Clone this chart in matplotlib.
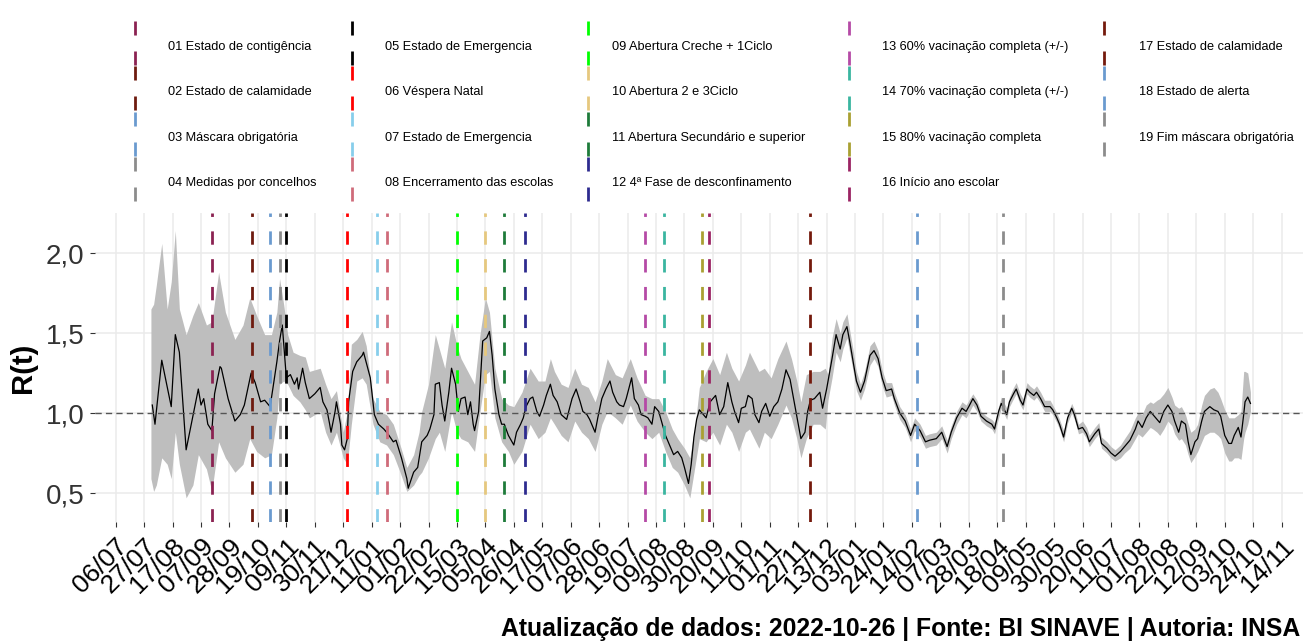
"""
R(t) ao longo do tempo, com as medidas/eventos marcados como linhas verticais.
"""

###
# IMPORTS
###
import numpy as np
import pandas as pd
import matplotlib
matplotlib.use("Agg")
import matplotlib.pyplot as plt
import matplotlib.dates as mdates

###
# GLOBALS
###
plt.rcParams['font.family'] = ['Liberation Sans', 'DejaVu Sans']
plt.rcParams['lines.scale_dashes'] = False

START = pd.Timestamp("2020-07-06")   # day 0 of the day counts below

# R(t) estimate (days since 06/07/2020, value)
rt_days = [27, 29, 34, 41, 44, 47, 52, 57, 61, 63, 65, 68, 71, 73, 77, 78, 83, 88, 92, 95,
           100, 103, 107, 110, 114, 116, 119, 121, 123, 124, 126, 129, 132, 134, 135, 138, 140,
           143, 147, 151, 153, 156, 158, 159, 162, 163, 166, 167, 169, 171, 172, 175, 178, 182,
           183, 188, 191, 194, 198, 201, 205, 207, 211, 215, 216, 220, 223,
           226, 230, 232, 235, 236, 239, 241, 243, 246, 248, 251, 253, 255, 258, 260, 262, 264,
           265, 268, 270, 271, 274, 276, 278, 280, 283, 285, 287, 290, 294, 296, 299, 301, 303,
           306, 308, 311, 313, 316, 318, 321, 323, 326, 329, 333, 337, 340, 343, 345, 348, 350,
           354, 356, 359, 362, 365, 367, 370, 372, 375, 377, 381, 383, 386, 388, 391, 393, 396,
           398, 401, 403, 406, 409, 412, 415, 418, 420, 423, 425, 427, 429,
           431, 434, 436, 439, 441, 443, 446, 449, 452, 455, 457, 460, 462, 465, 467, 470, 472,
           475, 477, 480, 483, 486, 489, 492, 495, 498, 501, 504, 506, 509, 511, 513, 516, 520,
           522, 525, 529, 532, 535, 537, 540, 542, 545, 547, 550, 553, 557, 560, 563, 566, 569,
           573, 575, 579, 583, 587, 590, 594, 598, 601, 606, 610, 614, 617, 621, 625, 628,
           630, 633, 636, 639, 643, 647, 649, 652, 654, 658, 660, 663, 665, 668, 670, 673, 675,
           678, 680, 683, 686, 690, 692, 695, 697, 700, 703, 706, 708, 711, 714, 717, 719, 723,
           726, 728, 732, 735, 738, 742, 745, 749, 753, 755, 758, 761, 764, 766, 769, 771, 774,
           777, 780, 782, 785, 787, 790, 792, 794, 797, 799, 802, 804, 808, 811, 814, 816, 819,
           822, 824, 826, 829, 831, 833, 834, 836, 838]
rt_vals = [1.05, 0.93, 1.33, 1.04, 1.49, 1.38, 0.77, 0.98, 1.15, 1.05, 1.09, 0.93, 0.89, 1.12,
           1.29, 1.28, 1.09, 0.95, 0.99, 1.05, 1.25, 1.19, 1.07, 1.08, 1.04, 1.15, 1.32, 1.45,
           1.55, 1.44, 1.22, 1.24, 1.18, 1.22, 1.15, 1.28, 1.19, 1.09, 1.12, 1.16, 1.07, 1.02,
           0.93, 0.88, 1.01, 1.07, 0.93, 0.80, 0.77, 0.84, 1.07, 1.26, 1.32, 1.36, 1.38, 1.22,
           0.99, 0.93, 0.90, 0.87, 0.82, 0.83, 0.72, 0.59, 0.53, 0.63, 0.66,
           0.82, 0.86, 0.90, 0.99, 1.18, 1.19, 1.05, 0.95, 1.13, 1.28, 1.18, 1.01, 1.09, 1.10,
           0.99, 1.07, 0.93, 0.89, 1.01, 1.30, 1.45, 1.47, 1.51, 1.36, 1.15, 0.99, 0.93, 0.93,
           0.86, 0.80, 0.88, 0.93, 0.97, 1.04, 1.09, 1.10, 1.01, 0.98, 1.05, 1.11, 1.18, 1.11,
           1.07, 0.99, 0.96, 1.09, 1.15, 1.07, 1.01, 0.99, 0.96, 0.88, 0.97, 1.09, 1.15, 1.20,
           1.13, 1.07, 1.05, 1.04, 1.09, 1.22, 1.09, 1.05, 0.99, 0.98, 0.97, 0.93, 1.04, 1.01,
           0.95, 0.86, 0.80, 0.74, 0.76, 0.72, 0.66, 0.56, 0.68, 0.85, 0.96,
           1.02, 0.99, 0.97, 1.07, 1.09, 1.11, 0.99, 1.04, 1.19, 1.07, 1.01, 0.94, 1.03, 1.04,
           1.11, 1.09, 0.99, 0.94, 1.01, 1.06, 0.98, 1.04, 1.07, 1.15, 1.27, 1.21, 1.07, 0.93,
           0.84, 0.88, 1.01, 1.08, 1.09, 1.13, 1.03, 1.15, 1.34, 1.49, 1.40, 1.49, 1.54, 1.45,
           1.30, 1.20, 1.13, 1.20, 1.36, 1.39, 1.34, 1.22, 1.14, 1.15, 1.09, 1.00, 0.95, 0.86,
           0.93, 0.89, 0.82, 0.83, 0.84, 0.88, 0.79, 0.88, 0.97, 1.03, 1.01,
           1.04, 1.09, 1.05, 0.98, 0.95, 0.93, 0.90, 1.01, 1.06, 0.99, 1.07, 1.12, 1.15, 1.08,
           1.05, 1.15, 1.13, 1.11, 1.13, 1.09, 1.04, 1.04, 1.02, 0.97, 0.93, 0.85, 0.97, 1.03,
           0.99, 0.90, 0.91, 0.87, 0.82, 0.87, 0.90, 0.81, 0.78, 0.75, 0.73, 0.76, 0.79, 0.83,
           0.90, 0.95, 0.91, 0.97, 1.01, 0.99, 0.96, 0.94, 1.01, 1.05, 1.01, 0.95, 0.88, 0.95,
           0.93, 0.82, 0.74, 0.82, 0.84, 0.95, 1.01, 1.04, 1.02, 1.01, 0.98, 0.86, 0.81, 0.81,
           0.86, 0.91, 0.85, 0.99, 1.07, 1.10, 1.06]

# confidence band (days since 06/07/2020, lower, upper)
band_days = [26, 28, 30, 34, 38, 41, 44, 47, 52, 57, 61, 67, 71, 76, 81, 88, 94, 99, 104, 110,
             115, 119, 121, 124, 127, 131, 136, 140, 143, 151, 155, 159, 163, 168, 171, 174,
             178, 182, 185, 190, 195, 200, 205, 210, 215, 220, 224, 226, 231, 236, 239, 243,
             248, 252, 255, 260, 265, 269, 273, 276, 280, 285, 290, 294, 300, 306, 312, 317,
             321, 324, 329, 334, 339, 344, 349, 354, 359, 363, 369, 374, 380, 385, 391, 396,
             401, 406, 411, 415, 420, 424, 428, 431, 436, 441, 446, 451, 455, 460, 465, 468,
             475, 479, 484, 489, 495, 499, 503, 506, 510, 515, 520, 524, 526,
             529, 532, 535, 537, 540, 542, 545, 547, 550, 553, 557, 560, 563, 566, 569, 573,
             575, 579, 583, 587, 590, 594, 598, 601, 606, 610, 614, 617, 621, 625, 628, 630,
             633, 636, 639, 643, 647, 649, 652, 654, 658, 660, 663, 665, 668, 670, 673, 675,
             678, 680, 683, 686, 690, 692, 695, 697, 700, 703, 706, 708, 711, 714, 717, 719,
             723, 726, 728, 732, 735, 738, 742, 745, 749, 753, 755, 758, 761, 764, 766, 769,
             771, 774, 777, 780, 782, 785, 787, 790, 792, 794, 797, 799, 802, 804, 808, 811,
             814, 816, 819, 822, 824, 826, 829, 831, 833, 834, 836, 838]
band_lo = [0.59, 0.51, 0.55, 0.72, 0.68, 0.59, 0.88, 0.68, 0.47, 0.55, 0.74, 0.65, 0.51, 0.82,
           0.72, 0.63, 0.68, 0.84, 0.76, 0.72, 0.74, 0.97, 1.18, 1.20, 1.18, 1.11, 1.07, 1.02,
           0.97, 1.01, 0.88, 0.80, 0.88, 0.72, 0.68, 0.93, 1.20, 1.22, 1.18, 0.93, 0.82, 0.80,
           0.74, 0.63, 0.51, 0.55, 0.61, 0.63, 0.72, 0.84, 0.88, 0.76, 1.01, 0.88, 0.84, 0.82,
           0.76, 1.01, 1.24, 1.26, 0.97, 0.82, 0.76, 0.68, 0.76, 0.93, 0.84, 0.88, 0.97, 0.93,
           0.86, 0.82, 0.95, 0.88, 0.84, 0.76, 0.93, 1.01, 0.97, 0.93, 1.05, 0.95, 0.88, 0.84,
           0.88, 0.76, 0.66, 0.63, 0.55, 0.47, 0.68, 0.84, 0.82, 0.88, 0.80, 0.93, 0.88, 0.76,
           0.88, 0.90, 0.78, 0.88, 0.84, 0.93, 1.05, 0.97, 0.84, 0.72, 0.84, 0.93, 0.93, 0.90,
           1.08,
           1.22, 1.38, 1.32, 1.40, 1.47, 1.38, 1.24, 1.14, 1.08, 1.15, 1.30, 1.34, 1.29, 1.17,
           1.10, 1.11, 1.05, 0.96, 0.91, 0.82, 0.89, 0.85, 0.78, 0.79, 0.80, 0.84, 0.75, 0.84,
           0.93, 0.99, 0.97, 1.00, 1.05, 1.01, 0.95, 0.92, 0.90, 0.87, 0.97, 1.03, 0.96, 1.04,
           1.09, 1.12, 1.05, 1.02, 1.12, 1.10, 1.08, 1.10, 1.06, 1.01, 1.01, 0.99, 0.94, 0.90,
           0.82, 0.94, 1.00, 0.96, 0.87, 0.88, 0.84, 0.79, 0.84, 0.87, 0.78, 0.75, 0.72, 0.70,
           0.72, 0.75, 0.78, 0.84, 0.87, 0.85, 0.88, 0.91, 0.90, 0.88, 0.86, 0.90, 0.95, 0.92,
           0.87, 0.83, 0.84, 0.80, 0.74, 0.69, 0.73, 0.76, 0.82, 0.86, 0.88, 0.88, 0.86, 0.84,
           0.75, 0.70, 0.70, 0.72, 0.72, 0.71, 0.84, 0.88, 0.93, 1.01]
band_hi = [1.65, 1.68, 1.80, 2.06, 1.65, 1.82, 2.14, 1.65, 1.49, 1.61, 1.69, 1.55, 1.57, 1.88,
           1.63, 1.46, 1.55, 1.72, 1.61, 1.49, 1.49, 1.63, 1.84, 1.68, 1.49, 1.38, 1.36, 1.35,
           1.26, 1.28, 1.18, 1.09, 1.14, 0.88, 1.01, 1.43, 1.46, 1.51, 1.42, 1.09, 1.01, 0.99,
           0.93, 0.80, 0.66, 0.74, 0.88, 1.01, 1.18, 1.49, 1.40, 1.28, 1.57, 1.42, 1.34, 1.26,
           1.18, 1.49, 1.72, 1.63, 1.28, 1.09, 1.05, 1.04, 1.13, 1.28, 1.20, 1.20, 1.34, 1.26,
           1.18, 1.16, 1.28, 1.18, 1.16, 1.07, 1.20, 1.34, 1.24, 1.22, 1.34, 1.22, 1.11, 1.09,
           1.09, 1.01, 0.90, 0.84, 0.78, 0.72, 0.93, 1.16, 1.26, 1.34, 1.24, 1.38, 1.28, 1.20,
           1.30, 1.38, 1.26, 1.28, 1.22, 1.34, 1.45, 1.34, 1.20, 1.07, 1.24, 1.26, 1.26, 1.28,
           1.24,
           1.47, 1.59, 1.50, 1.57, 1.62, 1.52, 1.37, 1.26, 1.18, 1.26, 1.42, 1.45, 1.39, 1.27,
           1.19, 1.19, 1.13, 1.04, 0.99, 0.90, 0.97, 0.93, 0.86, 0.87, 0.88, 0.92, 0.83, 0.92,
           1.01, 1.07, 1.05, 1.08, 1.12, 1.08, 1.01, 0.98, 0.96, 0.94, 1.04, 1.10, 1.03, 1.10,
           1.16, 1.19, 1.12, 1.09, 1.19, 1.17, 1.15, 1.17, 1.13, 1.08, 1.08, 1.05, 1.00, 0.96,
           0.89, 1.00, 1.06, 1.02, 0.93, 0.95, 0.91, 0.86, 0.91, 0.94, 0.85, 0.82, 0.79, 0.77,
           0.80, 0.84, 0.89, 0.97, 1.00, 0.99, 1.05, 1.07, 1.06, 1.08, 1.09, 1.12, 1.16, 1.10,
           1.05, 1.03, 1.04, 0.99, 0.93, 0.88, 0.90, 0.93, 1.05, 1.11, 1.15, 1.16, 1.13, 1.09,
           1.02, 0.97, 0.97, 0.97, 0.99, 1.01, 1.26, 1.26, 1.25, 1.13]

# events (legend label, date, colour)
event_labels = ["01 Estado de contigência", "02 Estado de calamidade", "03 Máscara obrigatória",
                "04 Medidas por concelhos", "05 Estado de Emergencia", "06 Véspera Natal",
                "07 Estado de Emergencia", "08 Encerramento das escolas",
                "09 Abertura Creche + 1Ciclo", "10 Abertura 2 e 3Ciclo",
                "11 Abertura Secundário e superior", "12 4ª Fase de desconfinamento",
                "13 60% vacinação completa (+/-)", "14 70% vacinação completa (+/-)",
                "15 80% vacinação completa", "16 Início ano escolar", "17 Estado de calamidade",
                "18 Estado de alerta", "19 Fim máscara obrigatória"]
event_dates = ["2020-09-15", "2020-10-15", "2020-10-28", "2020-11-04", "2020-11-09",
               "2020-12-24", "2021-01-15", "2021-01-22", "2021-03-15", "2021-04-05",
               "2021-04-19", "2021-05-04", "2021-08-01", "2021-08-15", "2021-09-12",
               "2021-09-17", "2021-12-01", "2022-02-18", "2022-04-22"]
event_colors = ["#8B2252", "#6E1B0F", "#6A9ACF", "#8C8C8C", "#000000", "#FF0000", "#87CEEB",
                "#CF6B7A", "#00FF00", "#E6C87E", "#1E7B3A", "#2E2B8F", "#B54AA6", "#3AB5A0",
                "#A9A032", "#9B2463", "#741A0C", "#6A9ACF", "#8C8C8C"]

y_ticks = [0.5, 1.0, 1.5, 2.0]
y_ticklabels = ["0,5", "1,0", "1,5", "2,0"]
caption = "Atualização de dados: 2022-10-26 | Fonte: BI SINAVE | Autoria: INSA"

W, H = 1307, 641


def to_dates(days):
  return (START + pd.to_timedelta(np.asarray(days), unit="D")).to_numpy()


###
# MAIN PROGRAM
###
def main():
  fig = plt.figure(figsize=(W / 100, H / 100), dpi=100)

  ## panel
  ax = fig.add_axes([95 / W, 1 - 522 / H, (1303 - 95) / W, (522 - 213) / H])
  ax.fill_between(to_dates(band_days), band_lo, band_hi, color="#BEBEBE", lw=0, zorder=2)
  ax.plot(to_dates(rt_days), rt_vals, color="black", lw=0.9, zorder=3)
  ax.axhline(1.0, color="#555555", lw=1.0, dashes=(4.5, 3.0), zorder=3)
  for d, c in zip(event_dates, event_colors):
    ax.axvline(pd.Timestamp(d), color=c, lw=2.0, dashes=(9.6, 10.4), zorder=4)

  ax.set_xlim(mdates.date2num(START - pd.Timedelta(days=15.3)),
              mdates.date2num(START + pd.Timedelta(days=876.8)))
  ax.set_ylim(0.319, 2.25)

  ticks = pd.date_range("2020-07-06", "2022-11-14", freq="21D")
  ax.set_xticks(ticks)
  ax.set_xticklabels(ticks.strftime("%d/%m"), rotation=45, ha="right", va="top",
                     rotation_mode="anchor", fontsize=19)
  ax.set_yticks(y_ticks)
  ax.set_yticklabels(y_ticklabels, fontsize=20)
  ax.tick_params(axis="both", color="#333333", labelcolor="#333333", length=3.6, width=0.8)
  ax.tick_params(axis="x", pad=5, labelcolor="black")
  ax.tick_params(axis="y", pad=4)

  for s in ax.spines.values():
    s.set_visible(False)
  ax.grid(True, color="#EBEBEB", lw=1.1)
  ax.set_axisbelow(True)

  ax.set_ylabel("R(t)", fontsize=21, fontweight="bold")
  ax.yaxis.set_label_coords(-0.048, 0.5)

  ## legend drawn on a figure-wide overlay in pixel units
  leg = fig.add_axes([0, 0, 1, 1])
  leg.set_axis_off()
  leg.set_xlim(0, W)
  leg.set_ylim(H, 0)
  key_x = [135, 352, 588, 849, 1104]
  text_x = [168, 385, 612, 882, 1139]
  for i, (lab, c) in enumerate(zip(event_labels, event_colors)):
    col, row = divmod(i, 4)
    yc = 47 + 45.3 * row
    leg.plot([key_x[col], key_x[col]], [yc - 26, yc + 19.5], color=c, lw=2.0,
             dashes=(10.1, 11.5), solid_capstyle="butt")
    leg.text(text_x[col], yc, lab, fontsize=9.2, va="center", ha="left")

  fig.text(1300 / W, 1 - 636 / H, caption, ha="right", va="baseline",
           fontsize=17.8, fontweight="bold")

  fig.savefig("out.png", dpi=100)


if __name__ == "__main__":
  main()
